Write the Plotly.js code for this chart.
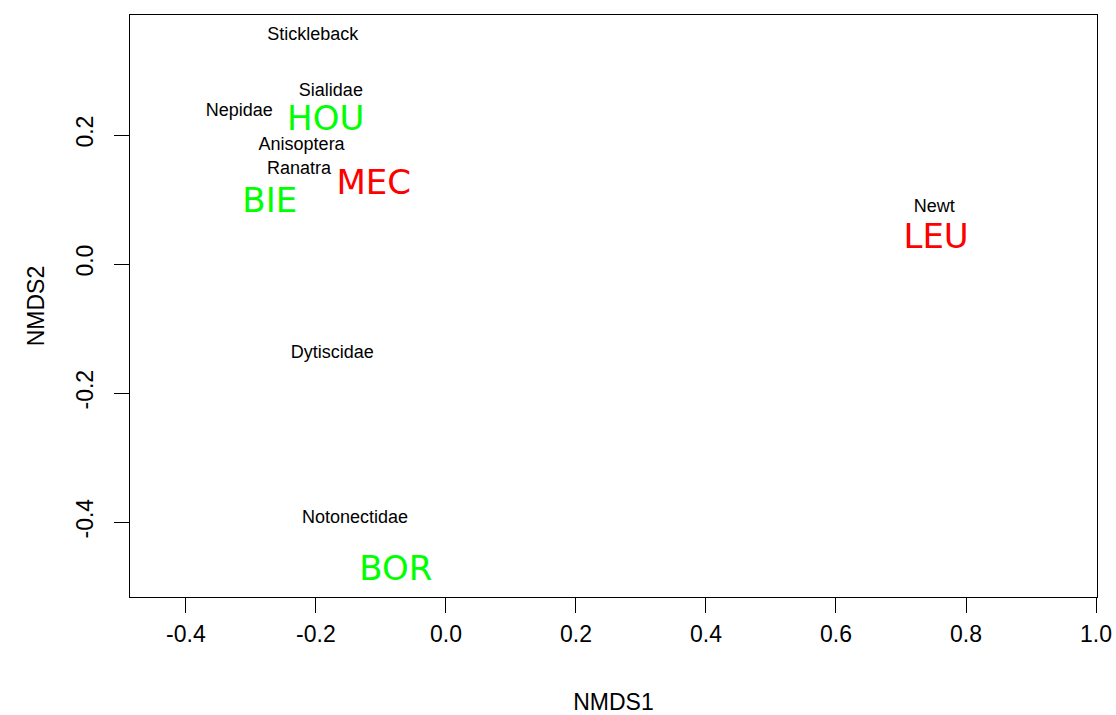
<!DOCTYPE html>
<html>
<head>
<meta charset="utf-8">
<script src="https://cdn.plot.ly/plotly-3.0.1.min.js"></script>
<style>
  html, body { margin: 0; padding: 0; background: #fff; }
  #plot { width: 1116px; height: 715px; }
</style>
</head>
<body>
<div id="plot"></div>
<script>
// NMDS ordination: species scores (black) and site scores (coloured)
const speciesNames = ["Stickleback", "Sialidae", "Nepidae", "Anisoptera", "Ranatra",
                      "Newt", "Dytiscidae", "Notonectidae"];
const speciesNMDS1 = [-0.205, -0.177, -0.318, -0.222, -0.226, 0.751, -0.175, -0.140];
const speciesNMDS2 = [0.354, 0.267, 0.237, 0.183, 0.146, 0.088, -0.139, -0.395];

const siteNames = ["HOU", "MEC", "BIE", "LEU", "BOR"];
const siteNMDS1 = [-0.185, -0.111, -0.271, 0.754, -0.077];
const siteNMDS2 = [0.221, 0.121, 0.094, 0.038, -0.476];
const siteColours = ["#00ff00", "#ff0000", "#00ff00", "#ff0000", "#00ff00"];

const xTicks = [-0.4, -0.2, 0.0, 0.2, 0.4, 0.6, 0.8, 1.0];
const yTicks = [-0.4, -0.2, 0.0, 0.2];

const species = {
  type: "scatter", mode: "text",
  x: speciesNMDS1, y: speciesNMDS2, text: speciesNames,
  textposition: "middle center",
  textfont: { family: "Liberation Sans, Arial, sans-serif", size: 18, color: "#000" },
  hoverinfo: "text", showlegend: false
};

const sites = {
  type: "scatter", mode: "text",
  x: siteNMDS1, y: siteNMDS2, text: siteNames,
  textposition: "middle center",
  textfont: { family: "DejaVu Sans, Verdana, sans-serif", size: 34, color: siteColours },
  hoverinfo: "text", showlegend: false
};

const axisFont = { family: "Liberation Sans, Arial, sans-serif", size: 23, color: "#000" };

const layout = {
  width: 1116, height: 715,
  paper_bgcolor: "#fff", plot_bgcolor: "#fff",
  margin: { l: 130, r: 19, t: 15, b: 118 },
  showlegend: false,
  xaxis: {
    range: [-0.486, 1.0015],
    tickvals: xTicks, ticktext: xTicks.map(v => v.toFixed(1)),
    ticks: "outside", ticklen: 15, tickwidth: 1, tickcolor: "#000",
    showline: true, linecolor: "#000", linewidth: 1.3, mirror: true,
    showgrid: false, zeroline: false,
    tickfont: axisFont, ticklabelstandoff: 1,
    title: { text: "NMDS1", font: axisFont, standoff: 55 }
  },
  yaxis: {
    range: [-0.516, 0.386],
    tickvals: yTicks, ticktext: yTicks.map(v => v.toFixed(1)),
    tickangle: -90,
    ticks: "outside", ticklen: 15, tickwidth: 1, tickcolor: "#000",
    showline: true, linecolor: "#000", linewidth: 1.3, mirror: true,
    showgrid: false, zeroline: false,
    tickfont: axisFont, ticklabelstandoff: 12,
    title: { text: "NMDS2", font: axisFont, standoff: 20 }
  }
};

Plotly.newPlot("plot", [species, sites], layout, { staticPlot: true });
</script>
</body>
</html>
